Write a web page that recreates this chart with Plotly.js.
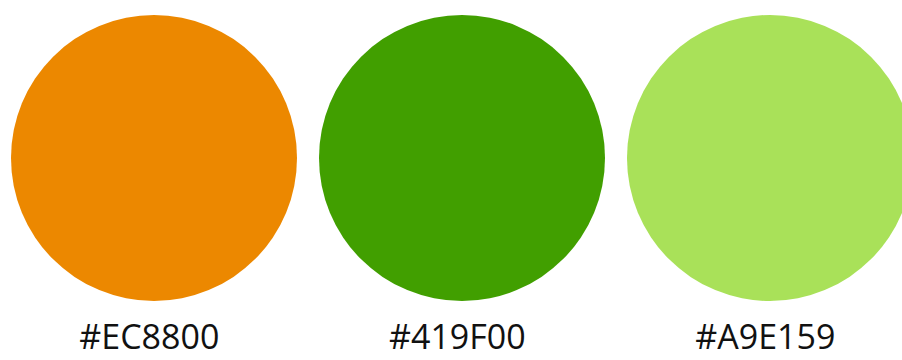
<!DOCTYPE html>
<html>
<head>
<meta charset="utf-8">
<script src="https://cdn.plot.ly/plotly-3.0.1.min.js"></script>
<style>html,body{margin:0;padding:0;background:#fff;overflow:hidden;}#chart{width:902px;height:360px;}</style>
</head>
<body>
<div id="chart"></div>
<script>
// Palette data
const swatchNames = ["#EC8800", "#419F00", "#A9E159"];
const swatchColors = ["#EC8800", "#419F00", "#A9E159"];
const swatchIndex = [0, 1, 2];

const circleRow = swatchIndex.map(() => 158);
const labelRow = swatchIndex.map(() => 340);

const circles = {
  type: "scatter",
  mode: "markers",
  x: swatchIndex,
  y: circleRow,
  marker: { size: 286, color: swatchColors, line: { width: 0 }, opacity: 1 },
  hoverinfo: "skip",
  cliponaxis: false
};

const labels = {
  type: "scatter",
  mode: "text",
  x: swatchIndex.map(i => i - 0.015),
  y: labelRow,
  text: swatchNames,
  textposition: "middle center",
  textfont: { family: "Open Sans, Noto Sans, sans-serif", size: 34, color: "#111111" },
  hoverinfo: "skip",
  cliponaxis: false
};

const layout = {
  width: 902,
  height: 360,
  margin: { l: 0, r: 0, t: 0, b: 0, pad: 0 },
  paper_bgcolor: "#ffffff",
  plot_bgcolor: "#ffffff",
  showlegend: false,
  xaxis: { range: [-0.5, 2.4286], visible: false, fixedrange: true },
  yaxis: { range: [360, 0], visible: false, fixedrange: true }
};

Plotly.newPlot("chart", [circles, labels], layout, { staticPlot: true, displayModeBar: false });
</script>
</body>
</html>
